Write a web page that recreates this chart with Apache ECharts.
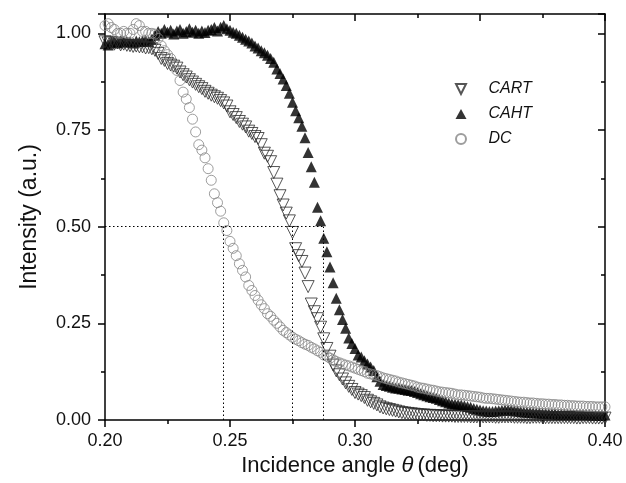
<!DOCTYPE html>
<html>
<head>
<meta charset="utf-8">
<script src="https://cdn.jsdelivr.net/npm/echarts@6/dist/echarts.min.js"></script>
<style>
  html, body { margin: 0; background: #fff; }
  #chart { width: 626px; height: 483px; }
</style>
</head>
<body>
<div id="chart"></div>
<script>
// incidence angle grid of the scan (deg)
const thetaStart = 0.2;
const thetaStep = 0.00125;

const cart = [
  0.978, 0.975, 0.977, 0.972, 0.975, 0.970, 0.972, 0.969, 0.968, 0.966,
  0.967, 0.965, 0.965, 0.962, 0.963, 0.960, 0.956, 0.948, 0.935, 0.930,
  0.922, 0.918, 0.915, 0.910, 0.900, 0.893, 0.887, 0.880, 0.874, 0.868,
  0.862, 0.857, 0.850, 0.845, 0.840, 0.836, 0.832, 0.826, 0.820, 0.812,
  0.797, 0.790, 0.782, 0.772, 0.765, 0.758, 0.747, 0.741, 0.733, 0.728,
  0.712, 0.690, 0.682, 0.668, 0.640, 0.610, 0.580, 0.556, 0.535, 0.515,
  0.485, 0.443, 0.425, 0.410, 0.380, 0.345, 0.300, 0.280, 0.262, 0.240,
  0.210, 0.185, 0.165, 0.142, 0.127, 0.117, 0.106, 0.096, 0.087, 0.079,
  0.071, 0.067, 0.063, 0.058, 0.051, 0.047, 0.043, 0.039, 0.034, 0.031,
  0.029, 0.027, 0.025, 0.023, 0.021, 0.019, 0.018, 0.017, 0.016, 0.015,
  0.014, 0.013, 0.013, 0.012, 0.012, 0.011, 0.011, 0.011, 0.010, 0.010,
  0.010, 0.010, 0.009, 0.009, 0.009, 0.009, 0.009, 0.008, 0.008, 0.008,
  0.008, 0.008, 0.008, 0.008, 0.008, 0.007, 0.007, 0.008, 0.008, 0.008,
  0.008, 0.007, 0.007, 0.007, 0.007, 0.006, 0.006, 0.007, 0.007, 0.007,
  0.007, 0.006, 0.006, 0.006, 0.006, 0.006, 0.006, 0.006, 0.006, 0.006,
  0.006, 0.005, 0.005, 0.006, 0.006, 0.006, 0.005, 0.005, 0.005, 0.005,
  0.005
];

const caht = [
  0.973, 0.970, 0.976, 0.978, 0.975, 0.980, 0.977, 0.979, 0.978, 0.975,
  0.980, 0.978, 0.980, 0.982, 0.979, 0.985, 0.995, 1.005, 1.000, 1.010,
  1.003, 1.008, 0.998, 1.006, 1.010, 1.000, 1.005, 1.012, 1.003, 1.008,
  1.000, 1.006, 1.002, 1.008, 1.010, 1.015, 1.006, 1.016, 1.020, 1.012,
  1.008, 1.003, 1.000, 0.995, 0.990, 0.985, 0.980, 0.975, 0.967, 0.962,
  0.955, 0.950, 0.943, 0.935, 0.925, 0.908, 0.896, 0.882, 0.865, 0.845,
  0.822, 0.800, 0.782, 0.760, 0.730, 0.692, 0.655, 0.615, 0.550, 0.515,
  0.470, 0.435, 0.396, 0.355, 0.315, 0.285, 0.260, 0.237, 0.212, 0.198,
  0.185, 0.168, 0.163, 0.153, 0.145, 0.137, 0.128, 0.112, 0.100, 0.092,
  0.089, 0.087, 0.085, 0.083, 0.082, 0.080, 0.079, 0.077, 0.076, 0.074,
  0.071, 0.068, 0.065, 0.063, 0.060, 0.058, 0.056, 0.053, 0.050, 0.047,
  0.044, 0.042, 0.041, 0.040, 0.039, 0.037, 0.035, 0.033, 0.030, 0.028,
  0.026, 0.024, 0.023, 0.022, 0.022, 0.023, 0.024, 0.025, 0.026, 0.026,
  0.025, 0.024, 0.023, 0.022, 0.021, 0.020, 0.020, 0.019, 0.018, 0.018,
  0.017, 0.017, 0.016, 0.016, 0.016, 0.015, 0.015, 0.015, 0.015, 0.015,
  0.014, 0.014, 0.014, 0.014, 0.014, 0.014, 0.013, 0.013, 0.013, 0.013,
  0.013
];

const dc = [
  1.020, 1.025, 1.015, 1.010, 1.000, 1.000, 1.005, 1.000, 1.000, 1.010,
  1.025, 1.020, 1.005, 1.005, 1.000, 1.000, 0.998, 0.987, 0.968, 0.955,
  0.945, 0.935, 0.917, 0.904, 0.878, 0.848, 0.830, 0.808, 0.778, 0.745,
  0.712, 0.698, 0.678, 0.650, 0.620, 0.585, 0.562, 0.540, 0.510, 0.490,
  0.462, 0.444, 0.425, 0.404, 0.387, 0.370, 0.348, 0.335, 0.322, 0.310,
  0.298, 0.288, 0.275, 0.268, 0.258, 0.250, 0.241, 0.232, 0.226, 0.220,
  0.214, 0.209, 0.205, 0.200, 0.196, 0.193, 0.188, 0.184, 0.179, 0.175,
  0.168, 0.165, 0.160, 0.156, 0.151, 0.148, 0.145, 0.142, 0.140, 0.137,
  0.134, 0.131, 0.128, 0.125, 0.121, 0.119, 0.117, 0.115, 0.112, 0.109,
  0.107, 0.105, 0.103, 0.101, 0.098, 0.096, 0.094, 0.092, 0.090, 0.088,
  0.085, 0.083, 0.082, 0.080, 0.078, 0.077, 0.075, 0.073, 0.072, 0.071,
  0.070, 0.069, 0.067, 0.065, 0.065, 0.064, 0.063, 0.062, 0.061, 0.060,
  0.059, 0.057, 0.056, 0.056, 0.055, 0.054, 0.053, 0.052, 0.051, 0.050,
  0.049, 0.048, 0.047, 0.046, 0.046, 0.045, 0.044, 0.044, 0.043, 0.042,
  0.042, 0.041, 0.041, 0.040, 0.040, 0.039, 0.039, 0.038, 0.038, 0.037,
  0.037, 0.036, 0.036, 0.036, 0.035, 0.035, 0.035, 0.034, 0.034, 0.034,
  0.034
];

// half-intensity level and the angles where each curve crosses it
const halfLevel = 0.5;
const halfAngles = [0.2472, 0.2748, 0.2873];

const xTicks = { min: 0.2, max: 0.4, interval: 0.05 };
const yTicks = { min: 0, max: 1.05, interval: 0.25 };

const font = 'Arial, "Liberation Sans", sans-serif';
const ink = '#111';
const downTriangle = 'path://M0,0 L10,0 L5,10 Z';

const toPoints = (vals) => vals.map((v, i) => [thetaStart + i * thetaStep, v]);

const frameAxis = (extra) => Object.assign({
  type: 'value',
  axisLine: { onZero: false, lineStyle: { color: '#000', width: 1.5 } },
  axisTick: { length: 7, lineStyle: { color: '#000', width: 1.5 } },
  minorTick: { show: true, splitNumber: 2, length: 4, lineStyle: { color: '#000', width: 1.5 } },
  splitLine: { show: false },
  minorSplitLine: { show: false },
}, extra);

const guideLines = [
  [{ coord: [thetaStart, halfLevel] }, { coord: [halfAngles[2], halfLevel] }],
  ...halfAngles.map((a) => [{ coord: [a, 0] }, { coord: [a, halfLevel] }]),
];

const chart = echarts.init(document.getElementById('chart'));

chart.setOption({
  animation: false,
  textStyle: { fontFamily: font },
  grid: { left: 105, right: 21, top: 14, bottom: 63 },
  xAxis: [
    frameAxis({
      position: 'bottom', ...xTicks,
      axisLabel: { fontSize: 18, color: ink, margin: 12, formatter: (v) => v.toFixed(2) },
      name: '{n|Incidence angle }{t|θ}{n|(deg)}',
      nameLocation: 'middle',
      nameGap: 27,
      nameTextStyle: {
        rich: {
          n: { fontSize: 22, color: ink, fontFamily: font },
          t: { fontSize: 22, color: ink, fontFamily: font, fontStyle: 'italic', padding: [0, 4, 0, 0] },
        },
      },
    }),
    frameAxis({
      position: 'top', ...xTicks,
      axisTick: { inside: true, length: 7, lineStyle: { color: '#000', width: 1.5 } },
      axisLabel: { show: false },
    }),
  ],
  yAxis: [
    frameAxis({
      position: 'left', ...yTicks,
      axisLabel: { fontSize: 18, color: ink, margin: 14, showMaxLabel: false, formatter: (v) => v.toFixed(2) },
      name: 'Intensity (a.u.)',
      nameLocation: 'middle',
      nameGap: 64,
      nameTextStyle: { fontSize: 23, color: ink },
    }),
    frameAxis({
      position: 'right', ...yTicks,
      axisTick: { inside: true, length: 7, lineStyle: { color: '#000', width: 1.5 } },
      axisLabel: { show: false },
    }),
  ],
  legend: {
    data: [{ name: 'CART', icon: downTriangle }, { name: 'CAHT' }, { name: 'DC' }],
    orient: 'vertical',
    left: 450,
    top: 76,
    itemWidth: 11,
    itemHeight: 10,
    itemGap: 9,
    selectedMode: false,
    textStyle: { fontSize: 16, fontStyle: 'italic', color: ink, padding: [0, 0, 0, 17] },
  },
  series: [
    {
      name: 'CAHT',
      type: 'scatter',
      symbol: 'triangle',
      symbolSize: 11,
      itemStyle: { color: '#000' },
      data: toPoints(caht),
    },
    {
      name: 'CART',
      type: 'scatter',
      symbol: 'triangle',
      symbolRotate: 180,
      symbolSize: 12,
      itemStyle: { color: 'rgba(255,255,255,0)', borderColor: '#2a2a2a', borderWidth: 1 },
      data: toPoints(cart),
    },
    {
      name: 'DC',
      type: 'scatter',
      symbol: 'circle',
      symbolSize: 10,
      itemStyle: { color: 'rgba(255,255,255,0)', borderColor: '#858585', borderWidth: 1 },
      data: toPoints(dc),
    },
    {
      name: 'half',
      type: 'scatter',
      data: [],
      silent: true,
      markLine: {
        silent: true,
        symbol: 'none',
        label: { show: false },
        lineStyle: { type: [1.5, 2.5], color: '#000', width: 1 },
        data: guideLines,
      },
    },
  ],
});
</script>
</body>
</html>
